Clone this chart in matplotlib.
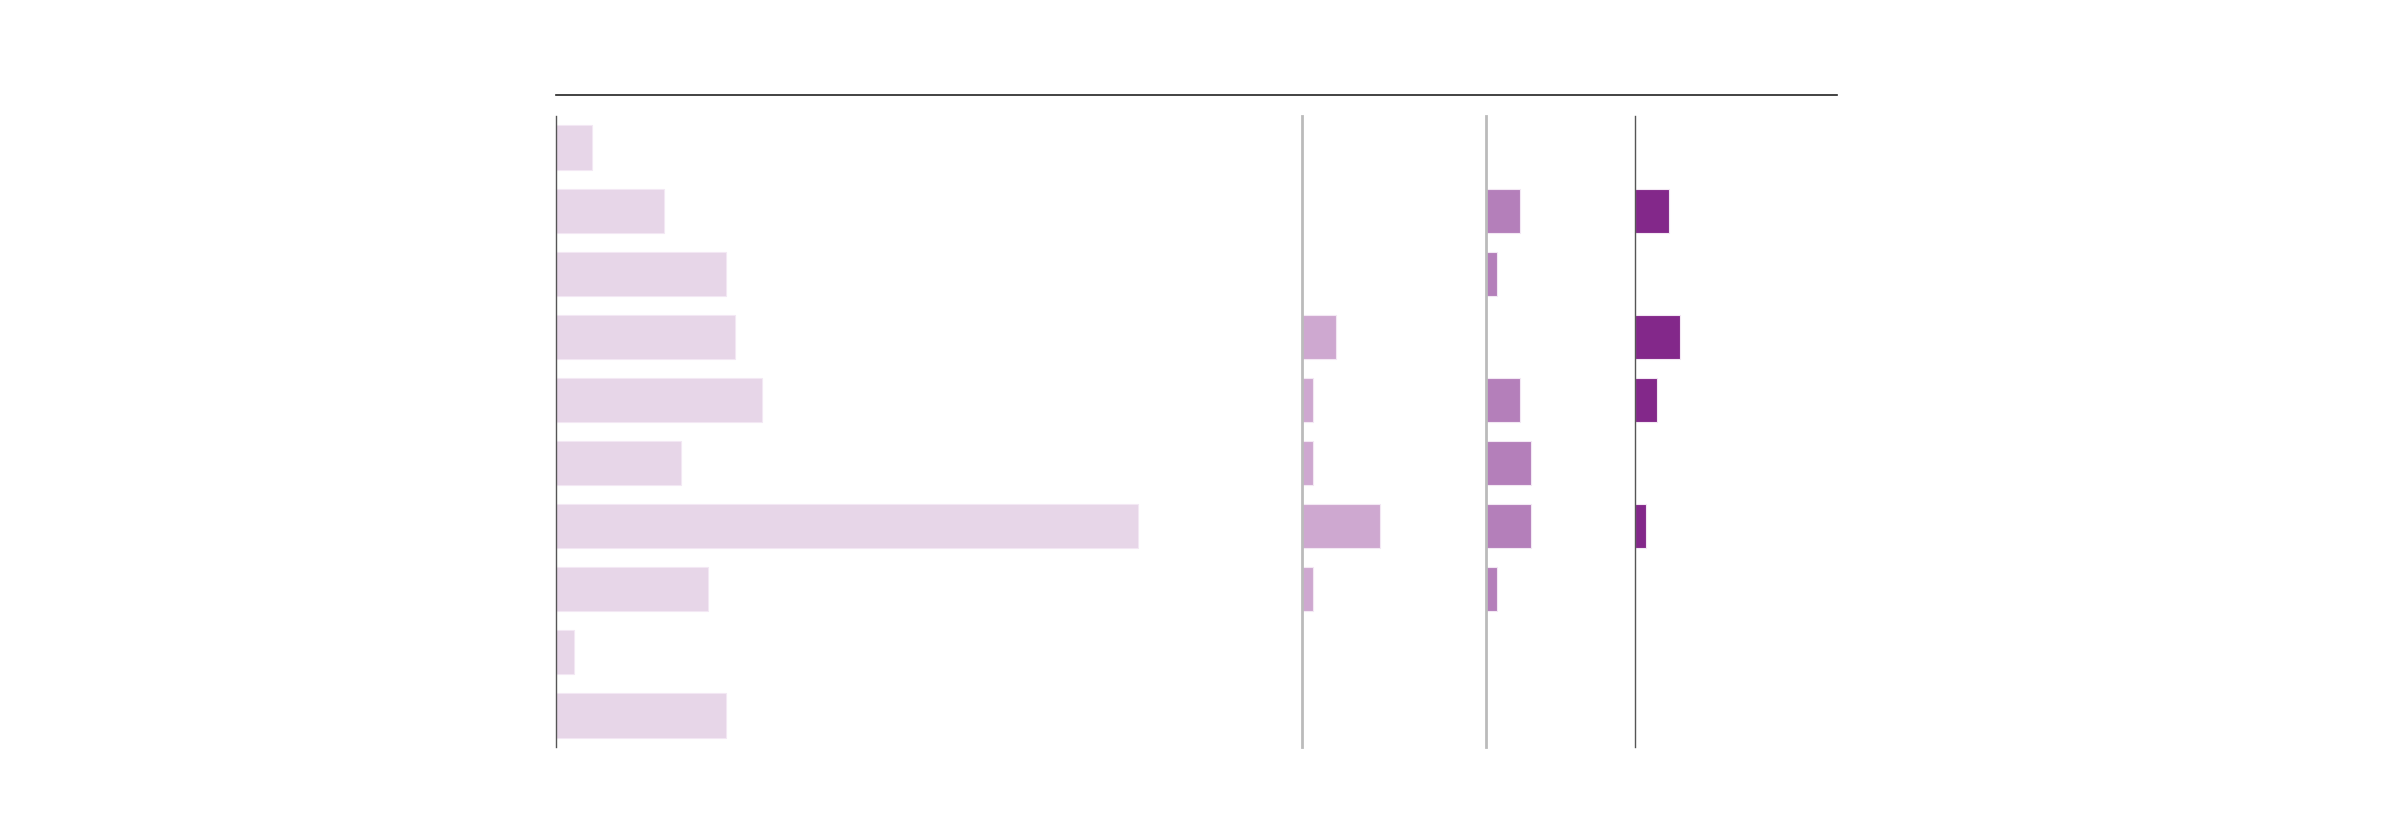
import matplotlib
matplotlib.use("Agg")
import matplotlib.pyplot as plt
from matplotlib.lines import Line2D

# ---- data (10 rows, top to bottom) ----
rows = list(range(10))
panel1 = [2, 6, 9.5, 10, 11.5, 7, 32.5, 8.5, 1, 9.5]
panel2 = [0, 0, 0, 3, 1, 1, 7, 1, 0, 0]
panel3 = [0, 3, 1, 0, 3, 4, 4, 1, 0, 0]
panel4 = [0, 3, 0, 4, 2, 0, 1, 0, 0, 0]

colors = ["#e7d6e8", "#cea8d0", "#b47fba", "#83288a"]
spine_colors = ["#555555", "#bbbbbb", "#bbbbbb", "#555555"]
spine_widths = [1.0, 2.0, 2.0, 1.0]

W, H = 2400, 816
fig = plt.figure(figsize=(24, 8.16), dpi=100)
fig.patch.set_facecolor("white")

# panel pixel extents (x) and pixels per data unit
edges = [556, 1302, 1486, 1635, 1837]
px_per_unit = [17.92, 11.2, 11.2, 11.2]
y_top, y_bot = 116, 747

data = [panel1, panel2, panel3, panel4]
for i in range(4):
    x0, x1 = edges[i], edges[i + 1]
    ax = fig.add_axes([x0 / W, 1 - y_bot / H, (x1 - x0) / W, (y_bot - y_top) / H])
    ax.barh(rows, data[i], height=0.7, color=colors[i],
            edgecolor="#f3e8f4", linewidth=0.8)
    ax.set_xlim(0, (x1 - x0) / px_per_unit[i])
    ax.set_ylim(9.5, -0.5)
    ax.set_xticks([])
    ax.set_yticks([])
    for s in ["top", "right", "bottom"]:
        ax.spines[s].set_visible(False)
    ax.spines["left"].set_color(spine_colors[i])
    ax.spines["left"].set_linewidth(spine_widths[i])
    ax.patch.set_alpha(0)

# top rule
fig.add_artist(Line2D([edges[0] / W, edges[-1] / W], [1 - 95 / H, 1 - 95 / H],
                      color="#222222", linewidth=1.2))

fig.savefig("out.png", dpi=100, facecolor="white")
